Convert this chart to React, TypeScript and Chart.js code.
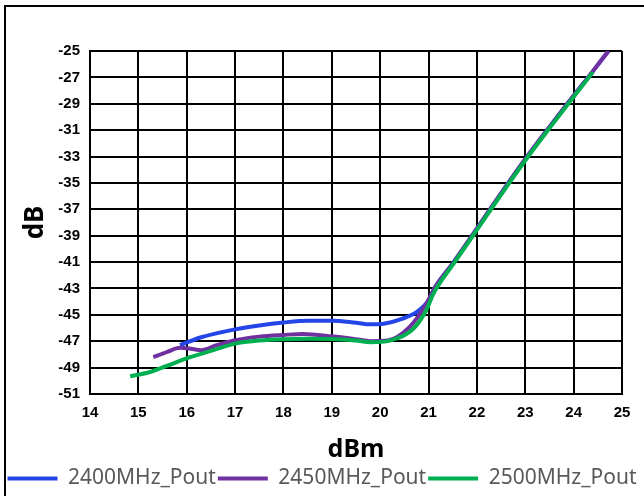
import React, { useEffect, useRef } from "react";
import { Chart, registerables } from "chart.js";

Chart.register(...registerables);

const seriesNames = ["2400MHz_Pout", "2450MHz_Pout", "2500MHz_Pout"];
const seriesColors = ["#2446E8", "#7030A0", "#00B050"];

const blueX = [15.86, 16.3, 17, 17.5, 18, 18.5, 19, 19.5, 19.8, 20.1, 20.45, 20.75, 21, 21.12, 21.52, 21.9, 22.27, 22.65, 23.04, 23.45, 23.87, 24.3, 24.72];
const blueY = [-47.3, -46.7, -46.1, -45.8, -45.58, -45.45, -45.45, -45.6, -45.72, -45.65, -45.3, -44.8, -43.9, -43.0, -41, -39, -37, -35, -33, -31, -29, -27, -25];

const purpleX = [15.31, 15.6, 15.86, 16.05, 16.3, 16.62, 17, 17.5, 18, 18.4, 19, 19.5, 19.8, 20.15, 20.6, 20.95, 21.12, 21.52, 21.9, 22.27, 22.65, 23.04, 23.45, 23.87, 24.3, 24.72];
const purpleY = [-48.2, -47.8, -47.5, -47.55, -47.68, -47.3, -46.92, -46.65, -46.52, -46.45, -46.63, -46.85, -47.0, -46.95, -45.95, -44.2, -43.0, -41, -39, -37, -35, -33, -31, -29, -27, -25];

const greenX = [14.83, 15.24, 15.6, 16, 16.55, 17, 17.5, 18, 18.5, 19, 19.5, 19.8, 20.2, 20.68, 20.95, 21.1, 21.54, 21.92, 22.29, 22.67, 23.06, 23.47, 23.89, 24.4];
const greenY = [-49.66, -49.33, -48.85, -48.3, -47.68, -47.18, -46.95, -46.85, -46.82, -46.83, -46.95, -47.07, -46.95, -46.07, -44.67, -43.4, -41, -39, -37, -35, -33, -31, -29, -26.6];

const xMin = 14;
const xMax = 25;
const yMin = -51;
const yMax = -25;

const toPoints = (xs: number[], ys: number[]) => xs.map((x, i) => ({ x, y: ys[i] }));

export default function App() {
  const ref = useRef<HTMLCanvasElement | null>(null);

  useEffect(() => {
    if (!ref.current) return;
    const series = [
      toPoints(blueX, blueY),
      toPoints(purpleX, purpleY),
      toPoints(greenX, greenY),
    ];
    const chart = new Chart(ref.current, {
      type: "line",
      data: {
        datasets: series.map((pts, i) => ({
          label: seriesNames[i],
          data: pts,
          borderColor: seriesColors[i],
          backgroundColor: seriesColors[i],
          borderWidth: 4,
          pointRadius: 0,
          pointStyle: "line",
          cubicInterpolationMode: "monotone" as const,
          fill: false,
          order: 2 - i,
        })),
      },
      options: {
        animation: false,
        responsive: false,
        layout: { padding: { top: 51, left: 0, right: 0, bottom: -3 } },
        plugins: {
          tooltip: { enabled: false },
          legend: {
            position: "bottom",
            labels: {
              usePointStyle: true,
              pointStyle: "line",
              pointStyleWidth: 50,
              padding: 2,
              color: "#595959",
              font: { family: "'Noto Sans', sans-serif", size: 21 },
              sort: (a: any, b: any) => a.datasetIndex - b.datasetIndex,
            },
          },
        },
        scales: {
          x: {
            type: "linear",
            min: xMin,
            max: xMax,
            afterFit: (s: any) => {
              s.height = 72;
            },
            ticks: {
              stepSize: 1,
              padding: 10,
              color: "#000",
              font: { family: "'Liberation Sans', Arial, sans-serif", size: 15, weight: "bold" },
            },
            grid: { color: "#000", lineWidth: 2, drawTicks: false },
            border: { color: "#000", width: 2 },
            title: {
              display: true,
              text: "dBm",
              color: "#000",
              padding: { top: 0, bottom: 4 },
              font: { family: "'Noto Sans', sans-serif", size: 25, weight: "bold", lineHeight: 1 },
            },
          },
          y: {
            type: "linear",
            min: yMin,
            max: yMax,
            afterFit: (s: any) => {
              s.width = 90;
            },
            ticks: {
              stepSize: 2,
              padding: 10,
              color: "#000",
              font: { family: "'Liberation Sans', Arial, sans-serif", size: 15, weight: "bold" },
            },
            grid: { color: "#000", lineWidth: 2, drawTicks: false },
            border: { color: "#000", width: 2 },
            title: {
              display: true,
              text: "dB",
              color: "#000",
              padding: { top: 20, bottom: 0 },
              font: { family: "'Noto Sans', sans-serif", size: 26, weight: "bold", lineHeight: 1.2 },
            },
          },
          yRight: {
            type: "linear",
            position: "right",
            display: true,
            afterFit: (s: any) => {
              s.width = 22;
            },
            ticks: { display: false },
            grid: { display: false, drawTicks: false },
            border: { display: false },
          },
        },
      },
    });
    return () => chart.destroy();
  }, []);

  return (
    <div style={{ position: "fixed", left: 0, top: 0, width: 644, height: 496, background: "#fff", overflow: "hidden" }}>
      <div
        style={{
          position: "absolute",
          left: 4,
          top: 5,
          width: 700,
          height: 600,
          borderLeft: "2px solid #000",
          borderTop: "2px solid #000",
        }}
      />
      <canvas ref={ref} width={644} height={496} style={{ position: "absolute", left: 0, top: 0 }} />
    </div>
  );
}
